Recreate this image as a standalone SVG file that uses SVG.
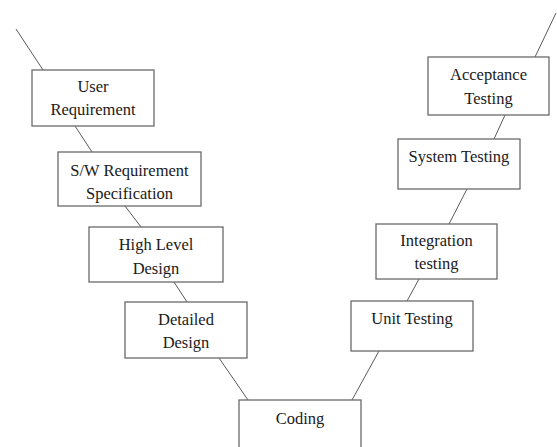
<svg xmlns="http://www.w3.org/2000/svg" width="557" height="447" viewBox="0 0 557 447">
<style>
.box{fill:#fff;stroke:#6a6a6a;stroke-width:1.3}
.ln{stroke:#5a5a5a;stroke-width:1;fill:none}
text{font-family:"Liberation Serif","Times New Roman",serif;font-size:16.5px;fill:#1a1a1a;text-anchor:middle}
</style>
<rect width="557" height="447" fill="#fff"/>
<g id="connectors">
<line class="ln" x1="16" y1="29" x2="43" y2="70"/>
<line class="ln" x1="75" y1="126" x2="92" y2="152"/>
<line class="ln" x1="125" y1="206" x2="141" y2="227"/>
<line class="ln" x1="174" y1="282" x2="187" y2="302"/>
<line class="ln" x1="219" y1="358" x2="248" y2="400"/>
<line class="ln" x1="352" y1="400" x2="379" y2="351"/>
<line class="ln" x1="407" y1="301" x2="419" y2="279"/>
<line class="ln" x1="449" y1="224" x2="467" y2="189"/>
<line class="ln" x1="494" y1="139" x2="505" y2="115"/>
<line class="ln" x1="535" y1="57" x2="556" y2="13"/>
</g>
<g id="user-requirement">
<rect class="box" x="32" y="70" width="122" height="56"/>
<text x="93" y="91.5">User</text>
<text x="93" y="114.5">Requirement</text>
</g>
<g id="sw-requirement-specification">
<rect class="box" x="58" y="152" width="143" height="54"/>
<text x="129.5" y="175.5">S/W Requirement</text>
<text x="129.5" y="198.5">Specification</text>
</g>
<g id="high-level-design">
<rect class="box" x="89" y="227" width="134" height="55"/>
<text x="156" y="249.5">High Level</text>
<text x="156" y="273.5">Design</text>
</g>
<g id="detailed-design">
<rect class="box" x="125" y="302" width="122" height="56"/>
<text x="186" y="324.5">Detailed</text>
<text x="186" y="347.5">Design</text>
</g>
<g id="coding">
<rect class="box" x="239" y="400" width="122" height="70"/>
<text x="300" y="423.5">Coding</text>
</g>
<g id="unit-testing">
<rect class="box" x="351" y="301" width="122" height="50"/>
<text x="412" y="323.5">Unit Testing</text>
</g>
<g id="integration-testing">
<rect class="box" x="376" y="224" width="121" height="55"/>
<text x="436.5" y="245.5">Integration</text>
<text x="436.5" y="268.5">testing</text>
</g>
<g id="system-testing">
<rect class="box" x="398" y="139" width="122" height="50"/>
<text x="459" y="161.5">System Testing</text>
</g>
<g id="acceptance-testing">
<rect class="box" x="428" y="57" width="121" height="58"/>
<text x="488.5" y="79.5">Acceptance</text>
<text x="488.5" y="103.5">Testing</text>
</g>
</svg>
